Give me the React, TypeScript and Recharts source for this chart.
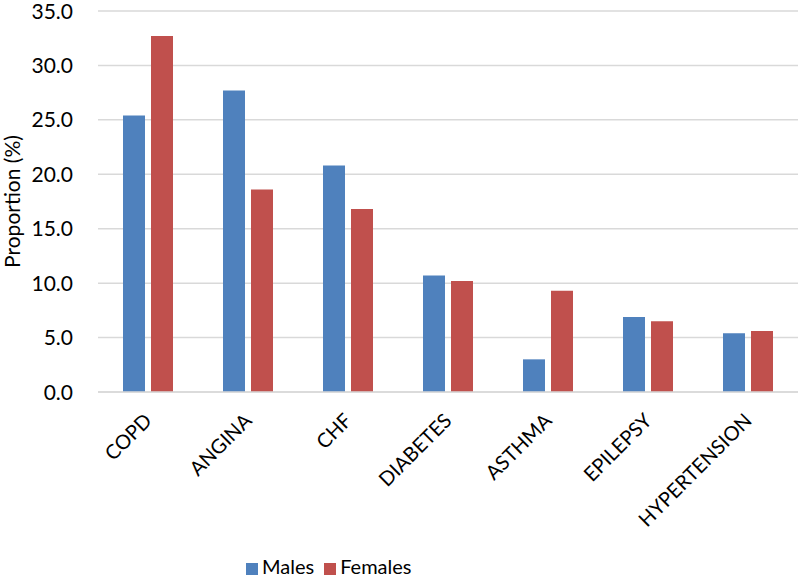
import { BarChart, Bar, XAxis, YAxis, CartesianGrid, Legend } from "recharts"

const conditions = ["COPD", "ANGINA", "CHF", "DIABETES", "ASTHMA", "EPILEPSY", "HYPERTENSION"]
const males = [25.4, 27.7, 20.8, 10.7, 3.0, 6.9, 5.4]
const females = [32.7, 18.6, 16.8, 10.2, 9.3, 6.5, 5.6]
const yTicks = [0, 5, 10, 15, 20, 25, 30, 35]
const seriesOrder = ["Males", "Females"]

const data = conditions.map((c, i) => ({
  condition: c,
  Males: males[i],
  Females: females[i],
}))

const font = "Lato, sans-serif"

function YLabel({ viewBox }: any) {
  const x = 20
  const y = viewBox.y + viewBox.height / 2
  return (
    <text
      x={x}
      y={y}
      transform={`rotate(-90, ${x}, ${y})`}
      textAnchor="middle"
      fontSize={21}
      fontFamily={font}
      fill="#000"
    >
      Proportion (%)
    </text>
  )
}

function XTick({ x, y, payload }: any) {
  return (
    <g transform={`translate(${x + 5},${y + 22})`}>
      <text transform="rotate(-45)" textAnchor="end" fontSize={20} fontFamily={font} fill="#000">
        {payload.value}
      </text>
    </g>
  )
}

function YTick({ x, y, payload }: any) {
  return (
    <text x={x - 17} y={y} dy="0.36em" textAnchor="end" fontSize={21} fontFamily={font} fill="#000">
      {Number(payload.value).toFixed(1)}
    </text>
  )
}

export default function App() {
  return (
    <div style={{ position: "absolute", left: 0, top: 0, fontFamily: font }}>
      <BarChart
        width={800}
        height={578}
        data={data}
        margin={{ top: 11, right: 2, bottom: 0, left: 0 }}
        barCategoryGap="25%"
        barGap={6}
      >
        <CartesianGrid vertical={false} stroke="#d9d9d9" strokeWidth={1.5} />
        <XAxis
          dataKey="condition"
          interval={0}
          height={162}
          tickLine={false}
          axisLine={{ stroke: "#d9d9d9", strokeWidth: 1.5 }}
          tick={<XTick />}
        />
        <YAxis
          domain={[0, 35]}
          ticks={yTicks}
          width={98}
          axisLine={false}
          tickLine={false}
          tick={<YTick />}
          label={<YLabel />}
        />
        <Legend
          verticalAlign="bottom"
          align="left"
          iconType="square"
          iconSize={12}
          itemSorter={(item: any) => seriesOrder.indexOf(item.dataKey)}
          wrapperStyle={{ fontSize: 20, fontFamily: font, left: 246, bottom: 0 }}
          formatter={(value: string) => <span style={{ color: "#000" }}>{value}</span>}
        />
        <Bar dataKey="Males" fill="#4F81BD" barSize={22} isAnimationActive={false} />
        <Bar dataKey="Females" fill="#C0504D" barSize={22} isAnimationActive={false} />
      </BarChart>
    </div>
  )
}
